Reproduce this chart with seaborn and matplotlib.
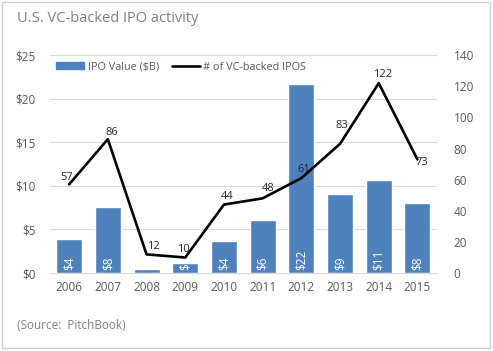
import seaborn as sns
import matplotlib.pyplot as plt
import pandas as pd
from matplotlib.patches import Patch, Rectangle
from matplotlib.lines import Line2D

# Data
years = ['2006', '2007', '2008', '2009', '2010', '2011', '2012', '2013', '2014', '2015']
ipo_value = [3.9, 7.6, 0.5, 1.1, 3.7, 6.1, 21.7, 9.1, 10.7, 8.0]
value_labels = ['$4', '$8', '$0', '$1', '$4', '$6', '$22', '$9', '$11', '$8']
ipo_count = [57, 86, 12, 10, 44, 48, 61, 83, 122, 73]

# where each count label sits relative to its point (points)
label_offsets = [(-2, 1), (3, 1), (5, 1.5), (-1, 2), (2, 1.5), (4, 3), (1.5, 2), (1, 9), (3, 2), (3, -6.5)]

df = pd.DataFrame({'year': years, 'value': ipo_value, 'count': ipo_count})

sns.set_style('white')
plt.rcParams['font.family'] = ['Open Sans', 'DejaVu Sans']

bar_color = '#4F81BD'
text_gray = '#595959'

fig = plt.figure(figsize=(4.93, 3.51), dpi=100)
ax = fig.add_axes([0.101, 0.222, 0.785, 0.621])

sns.barplot(data=df, x='year', y='value', color=bar_color, saturation=1,
            width=0.67, ax=ax)
ax.set_ylim(0, 25)
ax.set_yticks([0, 5, 10, 15, 20, 25])
ax.set_yticklabels(['$%d' % v for v in [0, 5, 10, 15, 20, 25]])
ax.grid(axis='y', color='#d9d9d9', linewidth=0.8)
ax.set_axisbelow(True)
ax.set_xlabel('')
ax.set_ylabel('')
for s in ax.spines.values():
    s.set_visible(False)
ax.spines['bottom'].set_visible(True)
ax.spines['bottom'].set_color('#d9d9d9')
ax.tick_params(axis='both', length=0, labelsize=8.5, labelcolor=text_gray)
ax.tick_params(axis='y', pad=10)
ax.tick_params(axis='x', pad=6)

for i, lab in enumerate(value_labels):
    ax.text(i, 0.35, lab, rotation=90, ha='center', va='bottom',
            color='white', fontsize=8.5)

ax2 = ax.twinx()
sns.lineplot(x=list(range(len(years))), y=ipo_count, color='black',
             linewidth=1.9, ax=ax2)
ax2.set_ylim(0, 140)
ax2.set_yticks(range(0, 141, 20))
ax2.set_ylabel('')
for s in ax2.spines.values():
    s.set_visible(False)
ax2.tick_params(axis='y', length=0, labelsize=8.5, labelcolor=text_gray, pad=12)
ax.set_xlim(-0.5, len(years) - 0.5)

for i, (c, off) in enumerate(zip(ipo_count, label_offsets)):
    ax2.annotate(str(c), (i, c), xytext=off, textcoords='offset points',
                 ha='center', va='bottom', fontsize=8, color='#262626')

handles = [Patch(color=bar_color), Line2D([0], [0], color='black', linewidth=1.9)]
ax2.legend(handles, ['IPO Value ($B)', '# of VC-backed IPOS'], loc='upper left',
           bbox_to_anchor=(0.0, 1.0), ncol=2, frameon=False, fontsize=7.8,
           handlelength=2.6, handleheight=0.6, handletextpad=0.3,
           columnspacing=1.2, labelcolor=text_gray, borderaxespad=0.2)

fig.text(0.034, 0.948, 'U.S. VC-backed IPO activity', fontsize=10.5,
         color='#7f7f7f', va='center')
fig.text(0.034, 0.073, '(Source:  PitchBook)', fontsize=8.5,
         color='#7f7f7f', va='center')

fig.patches.append(Rectangle((0.004, 0.008), 0.99, 0.985, transform=fig.transFigure,
                             fill=False, edgecolor='#d0d0d0', linewidth=1))

fig.savefig('out.png', dpi=100)
